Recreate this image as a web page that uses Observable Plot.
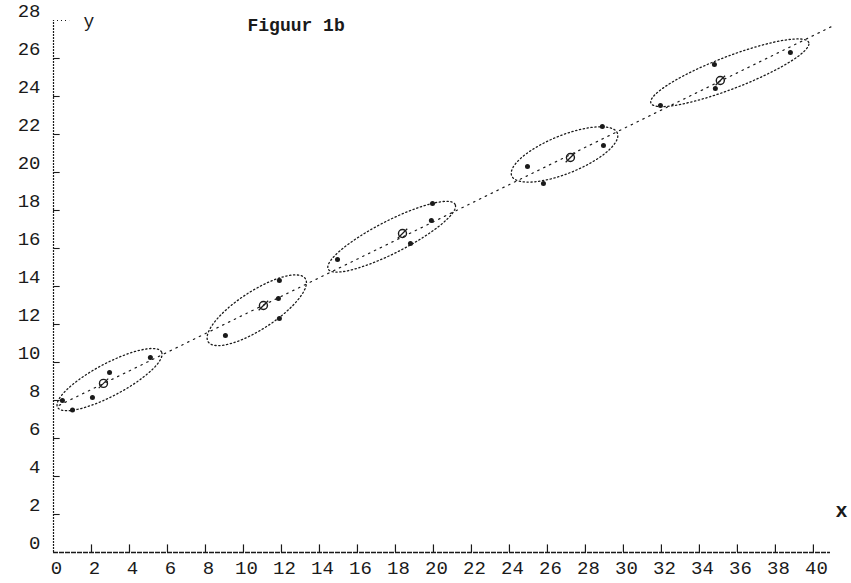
<!DOCTYPE html>
<html>
<head>
<meta charset="utf-8">
<script src="https://cdn.jsdelivr.net/npm/d3@7"></script>
<script src="https://cdn.jsdelivr.net/npm/@observablehq/plot@0.6"></script>
<style>
  body { margin: 0; background: #fff; }
  #chart { width: 851px; height: 583px; }
</style>
</head>
<body>
<div id="chart"></div>
<script>
// Axis ticks
const xTicks = [0, 2, 4, 6, 8, 10, 12, 14, 16, 18, 20, 22, 24, 26, 28, 30, 32, 34, 36, 38, 40];
const yTicks = [0, 2, 4, 6, 8, 10, 12, 14, 16, 18, 20, 22, 24, 26, 28];

// Observations, grouped
const pointGroup = [1, 1, 1, 1, 1, 2, 2, 2, 2, 3, 3, 3, 3, 4, 4, 4, 4, 5, 5, 5, 5];
const pointX = [0.47, 1.0, 2.05, 2.95, 5.1, 9.05, 11.84, 11.89, 11.89, 14.95, 18.79, 19.89, 19.95, 24.95, 25.79, 28.89, 28.95, 31.95, 34.79, 34.84, 38.79];
const pointY = [8.0, 7.5, 8.16, 9.47, 10.26, 11.42, 13.37, 12.32, 14.32, 15.42, 16.26, 17.47, 18.37, 20.32, 19.42, 22.42, 21.42, 23.53, 25.68, 24.42, 26.32];

// Group means
const meanX = [2.63, 11.05, 18.37, 27.21, 35.1];
const meanY = [8.9, 13.0, 16.79, 20.79, 24.84];

// Enclosing ellipses: centre, half-axes and tilt in degrees
const ellCX = [2.95, 10.7, 17.8, 26.9, 35.6];
const ellCY = [9.1, 12.75, 16.62, 20.95, 25.25];
const ellA = [3.1, 3.05, 3.75, 3.0, 4.45];
const ellB = [0.85, 1.0, 0.85, 1.0, 0.85];
const ellAngle = [28, 33, 27, 22, 21];

// Fitted line through the group means (end points)
const fitX = [0.3, 41];
const fitY = [7.75, 27.7];

const points = pointX.map((x, i) => ({x, y: pointY[i], g: pointGroup[i]}));
const means = meanX.map((x, i) => ({x, y: meanY[i]}));
const fit = fitX.map((x, i) => ({x, y: fitY[i]}));

// Outline of each ellipse as a closed path
const outlines = [];
ellCX.forEach((cx, k) => {
  const th = ellAngle[k] * Math.PI / 180;
  for (let j = 0; j <= 96; j++) {
    const t = 2 * Math.PI * j / 96;
    const u = ellA[k] * Math.cos(t), v = ellB[k] * Math.sin(t);
    outlines.push({
      g: k,
      x: cx + u * Math.cos(th) - v * Math.sin(th),
      y: ellCY[k] + u * Math.sin(th) + v * Math.cos(th)
    });
  }
});

const mono = "Liberation Mono, DejaVu Sans Mono, monospace";
const ink = "#1a1a1a";

const chart = Plot.plot({
  width: 851,
  height: 583,
  marginLeft: 53,
  marginRight: 21,
  marginTop: 20,
  marginBottom: 31,
  style: {background: "#fff", overflow: "visible"},
  x: {domain: [0, 40.9], axis: null},
  y: {domain: [0, 28], axis: null},
  marks: [
    // axes
    Plot.ruleX([0], {y1: 0, y2: 28, stroke: ink, strokeWidth: 1.2, strokeDasharray: "2,1"}),
    Plot.ruleY([0], {x1: 0, x2: 40.9, stroke: ink, strokeWidth: 1.4, strokeDasharray: "5,1"}),
    Plot.ruleY([28], {x1: 0, x2: 0.85, stroke: ink, strokeWidth: 1, strokeDasharray: "1,3"}),
    Plot.ruleY(yTicks.filter(d => d > 0 && d < 28), {x1: 0, x2: 0.35, stroke: ink, strokeWidth: 1.1}),
    Plot.ruleX(xTicks.filter(d => d > 0), {y1: 0, y2: 0.4, stroke: ink, strokeWidth: 1.2}),
    // tick labels
    Plot.text(xTicks, {x: d => d, frameAnchor: "bottom", dy: 21, dx: 3, text: d => String(d),
      fontFamily: mono, fontSize: 19, fill: ink}),
    Plot.text(yTicks, {y: d => d, frameAnchor: "left", dx: -13, dy: -10, textAnchor: "end",
      text: d => String(d), fontFamily: mono, fontSize: 19, fill: ink}),
    // axis names and title
    Plot.text(["y"], {frameAnchor: "top-left", dx: 30, dy: -6, fontFamily: mono, fontSize: 18, fill: ink}),
    Plot.text(["x"], {frameAnchor: "bottom-right", dx: 17, dy: -36, fontFamily: mono, fontSize: 20,
      fontWeight: "bold", fill: ink}),
    Plot.text(["Figuur 1b"], {frameAnchor: "top-left", dx: 194, dy: -2, textAnchor: "start",
      fontFamily: mono, fontSize: 18, fontWeight: "bold", fill: ink}),
    // fitted line
    Plot.line(fit, {x: "x", y: "y", stroke: ink, strokeWidth: 1.2, strokeDasharray: "1.5,5"}),
    // ellipses
    Plot.line(outlines, {x: "x", y: "y", z: "g", stroke: ink, strokeWidth: 1.3,
      strokeDasharray: "1.3,2.6", curve: "linear"}),
    // observations
    Plot.dot(points, {x: "x", y: "y", r: 2.5, fill: ink, stroke: "none"}),
    // group means
    Plot.dot(means, {x: "x", y: "y", r: 4, fill: "none", stroke: ink, strokeWidth: 1.4}),
    Plot.link(means, {x1: d => d.x - 0.25, y1: d => d.y - 0.25, x2: d => d.x + 0.25, y2: d => d.y + 0.25,
      stroke: ink, strokeWidth: 1.2})
  ]
});

document.getElementById("chart").append(chart);
</script>
</body>
</html>
